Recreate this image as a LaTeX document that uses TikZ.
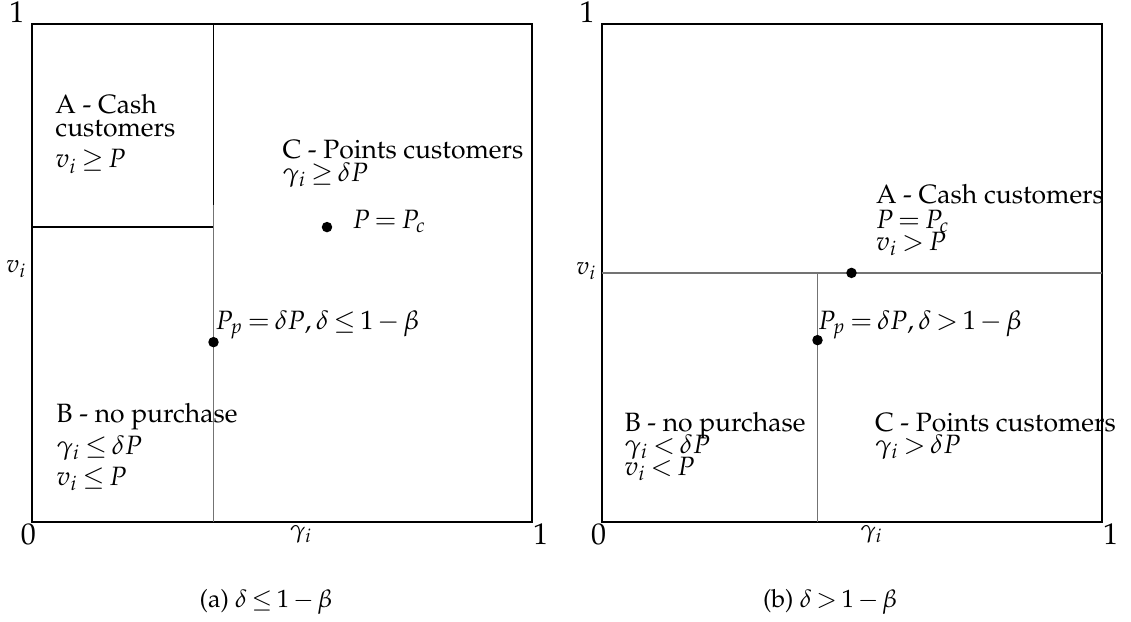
\documentclass[tikz,border=0pt]{standalone}
\usepackage[T1]{fontenc}
\usepackage{amsmath,amssymb}
\usepackage{mathpazo}
\usepackage{tikz}
\thickmuskip=3.2mu plus 2mu
\medmuskip=2.6mu plus 1mu minus 2mu

\begin{document}
\begin{tikzpicture}[x=200pt,y=199.2pt,
  lbl/.style={anchor=base west,inner sep=0pt,font=\fontsize{10.6}{12}\selectfont},
  tick/.style={anchor=base,inner sep=0pt,font=\large},
  dot/.style={circle,fill,inner sep=0pt,minimum size=4.2pt},
  frame/.style={line width=0.55pt},
  split/.style={draw=black!55,line width=0.55pt}]
\useasboundingbox (-0.064,-0.199) rectangle (2.198,1.048);
% (a) delta <= 1 - beta
\begin{scope}
\pgfmathsetmacro{\gx}{0.363}
\pgfmathsetmacro{\vy}{0.592}
\draw[frame] (0,0) rectangle (1,1);
\draw[frame] (0,\vy) -- (\gx,\vy);
\draw[frame] (\gx,1) -- (\gx,0.637);
\draw[split] (\gx,0.637) -- (\gx,0);
\node[dot] (ppa) at (\gx,0.361) {};
\node[dot] (pca) at (0.59,\vy) {};
\node[tick] (zeroa) at (-0.007,-0.046) {0};
\node[tick] (onexa) at (1.017,-0.046) {1};
\node[tick] (oneya) at (-0.03,1.002) {1};
\node[anchor=base] (gama) at (0.538,-0.032) {$\gamma_i$};
\node[anchor=base east,inner sep=0pt] (va) at (-0.01,0.5) {$v_i$};
\node[lbl] (a1) at (0.046,0.821) {A - Cash};
\node[lbl] (a2) at (0.046,0.773) {customers};
\node[lbl] (a3) at (0.046,0.711) {$v_i \geq P$};
\node[lbl] (c1) at (0.5,0.729) {C - Points customers};
\node[lbl] (c2) at (0.5,0.683) {$\gamma_i \geq \delta P$};
\node[lbl] (pclbl) at (0.64,0.590) {$P = P_c$};
\node[lbl] (pplbl) at (0.366,0.386) {$P_p = \delta P, \delta \leq 1-\beta$};
\node[lbl] (b1) at (0.048,0.199) {B - no purchase};
\node[lbl] (b2) at (0.048,0.135) {$\gamma_i \leq \delta P$};
\node[lbl] (b3) at (0.048,0.074) {$v_i \leq P$};
\node[anchor=base,inner sep=0pt] (capa) at (0.468,-0.171) {(a) $\delta \leq 1-\beta$};
\end{scope}
% (b) delta > 1 - beta
\begin{scope}[xshift=228pt]
\pgfmathsetmacro{\gx}{0.431}
\pgfmathsetmacro{\vy}{0.5}
\draw[frame] (0,0) rectangle (1,1);
\draw[split] (0,\vy) -- (1,\vy);
\draw[split] (\gx,\vy) -- (\gx,0);
\node[dot] (ppb) at (\gx,0.365) {};
\node[dot] (pcb) at (0.499,\vy) {};
\node[tick] (zerob) at (-0.007,-0.046) {0};
\node[tick] (onexb) at (1.017,-0.046) {1};
\node[tick] (oneyb) at (-0.03,1.002) {1};
\node[anchor=base] (gamb) at (0.539,-0.032) {$\gamma_i$};
\node[anchor=base east,inner sep=0pt] (vb) at (-0.01,0.496) {$v_i$};
\node[lbl] (a1b) at (0.547,0.639) {A - Cash customers};
\node[lbl] (a2b) at (0.547,0.590) {$P = P_c$};
\node[lbl] (a3b) at (0.547,0.546) {$v_i > P$};
\node[lbl] (pplblb) at (0.431,0.386) {$P_p = \delta P, \delta > 1-\beta$};
\node[lbl] (b1b) at (0.044,0.181) {B - no purchase};
\node[lbl] (b2b) at (0.044,0.137) {$\gamma_i < \delta P$};
\node[lbl] (b3b) at (0.044,0.094) {$v_i < P$};
\node[lbl] (c1b) at (0.545,0.181) {C - Points customers};
\node[lbl] (c2b) at (0.545,0.137) {$\gamma_i > \delta P$};
\node[anchor=base,inner sep=0pt] (capb) at (0.456,-0.171) {(b) $\delta > 1-\beta$};
\end{scope}
\end{tikzpicture}
\end{document}
